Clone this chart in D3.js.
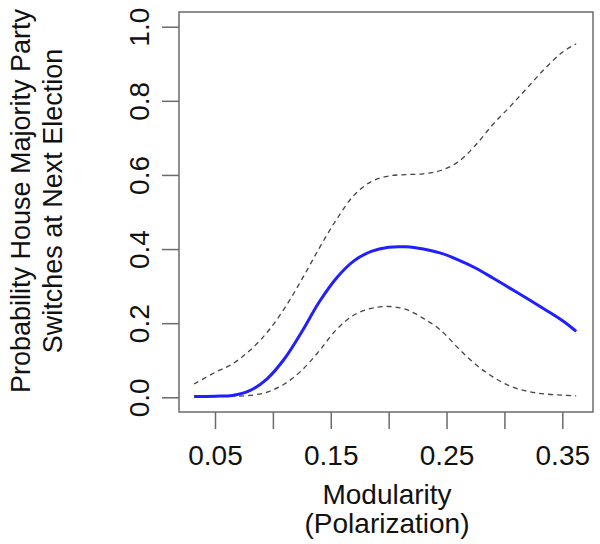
<!DOCTYPE html>
<html>
<head>
<meta charset="utf-8">
<script src="https://cdn.jsdelivr.net/npm/d3@7"></script>
<style>
  body { margin: 0; background: #fff; }
  text { font-family: "Liberation Sans", Arial, sans-serif; fill: #111; }
</style>
</head>
<body>
<svg id="root"></svg>
<script>
// values
const modularity = [0.032, 0.05, 0.065, 0.08, 0.095, 0.11, 0.125, 0.14, 0.155, 0.17, 0.185, 0.2,
  0.215, 0.23, 0.245, 0.26, 0.275, 0.29, 0.305, 0.32, 0.335, 0.35, 0.362];
const probFit = [0.002, 0.003, 0.005, 0.018, 0.05, 0.104, 0.177, 0.257, 0.322, 0.368, 0.394, 0.405,
  0.406, 0.4, 0.389, 0.371, 0.349, 0.322, 0.294, 0.266, 0.237, 0.207, 0.178];
const probUpper = [0.036, 0.067, 0.09, 0.126, 0.175, 0.24, 0.318, 0.402, 0.48, 0.545, 0.582, 0.597,
  0.601, 0.603, 0.612, 0.635, 0.68, 0.736, 0.785, 0.836, 0.887, 0.931, 0.954];
const probLower = [0.001, 0.002, 0.003, 0.005, 0.014, 0.036, 0.073, 0.125, 0.183, 0.222, 0.24, 0.245,
  0.237, 0.213, 0.181, 0.133, 0.089, 0.055, 0.03, 0.016, 0.009, 0.006, 0.004];

const xTicks = [0.05, 0.1, 0.15, 0.2, 0.25, 0.3, 0.35];
const xTickLabels = ["0.05", "", "0.15", "", "0.25", "", "0.35"];
const yTicks = [0, 0.2, 0.4, 0.6, 0.8, 1.0];
const yTitle = ["Probability House Majority Party", "Switches at Next Election"];
const xTitle = ["Modularity", "(Polarization)"];

const width = 600;
const height = 544;
const box = { left: 179, right: 593, top: 12, bottom: 412 };
const axisColor = "#6b6b6b";
const fontSize = "28px";

const svg = d3.select("#root").attr("width", width).attr("height", height);

const x = d3.scaleLinear().domain([0.05, 0.35]).range([215, 562.3]);
const y = d3.scaleLinear().domain([0, 1]).range([397.3, 26.7]);

// plot box
svg.append("rect")
  .attr("x", box.left)
  .attr("y", box.top)
  .attr("width", box.right - box.left)
  .attr("height", box.bottom - box.top)
  .attr("fill", "none")
  .attr("stroke", axisColor)
  .attr("stroke-width", 1.5);

// x axis
const xAxis = svg.append("g")
  .attr("transform", `translate(0, ${box.bottom})`)
  .call(d3.axisBottom(x)
    .tickValues(xTicks)
    .tickSize(17)
    .tickFormat((d, i) => xTickLabels[i]));
xAxis.select(".domain").remove();
xAxis.selectAll(".tick line").attr("stroke", axisColor).attr("stroke-width", 1.5);
xAxis.selectAll(".tick text")
  .attr("y", 53)
  .attr("dy", 0)
  .style("font-size", fontSize)
  .style("font-family", "Liberation Sans, Arial, sans-serif")
  .attr("fill", "#111");

// y axis, labels turned parallel to the axis
const yAxis = svg.append("g")
  .attr("transform", `translate(${box.left}, 0)`)
  .call(d3.axisLeft(y)
    .tickValues(yTicks)
    .tickSize(17)
    .tickFormat(d3.format(".1f")));
yAxis.select(".domain").remove();
yAxis.selectAll(".tick line").attr("stroke", axisColor).attr("stroke-width", 1.5);
yAxis.selectAll(".tick text")
  .attr("transform", "rotate(-90)")
  .attr("x", 0)
  .attr("y", -30.5)
  .attr("dy", 0)
  .attr("text-anchor", "middle")
  .style("font-size", fontSize)
  .style("font-family", "Liberation Sans, Arial, sans-serif")
  .attr("fill", "#111");

// curves
const line = (vals) => d3.line()
  .x((d, i) => x(modularity[i]))
  .y((d) => y(d))
  .curve(d3.curveCatmullRom.alpha(0.5))(vals);

[probUpper, probLower].forEach((vals) => {
  svg.append("path")
    .attr("d", line(vals))
    .attr("fill", "none")
    .attr("stroke", "#444")
    .attr("stroke-width", 1.3)
    .attr("stroke-dasharray", "5,4");
});

svg.append("path")
  .attr("d", line(probFit))
  .attr("fill", "none")
  .attr("stroke", "#1f1fff")
  .attr("stroke-width", 3);

// titles
svg.selectAll(".x-title")
  .data(xTitle)
  .enter()
  .append("text")
  .attr("class", "x-title")
  .attr("x", 387)
  .attr("y", (d, i) => 504 + i * 29)
  .attr("text-anchor", "middle")
  .style("font-size", fontSize)
  .text((d) => d);

svg.selectAll(".y-title")
  .data(yTitle)
  .enter()
  .append("text")
  .attr("class", "y-title")
  .attr("transform", (d, i) => `translate(${30 + i * 32}, 201) rotate(-90)`)
  .attr("text-anchor", "middle")
  .style("font-size", "27px")
  .text((d) => d);
</script>
</body>
</html>
